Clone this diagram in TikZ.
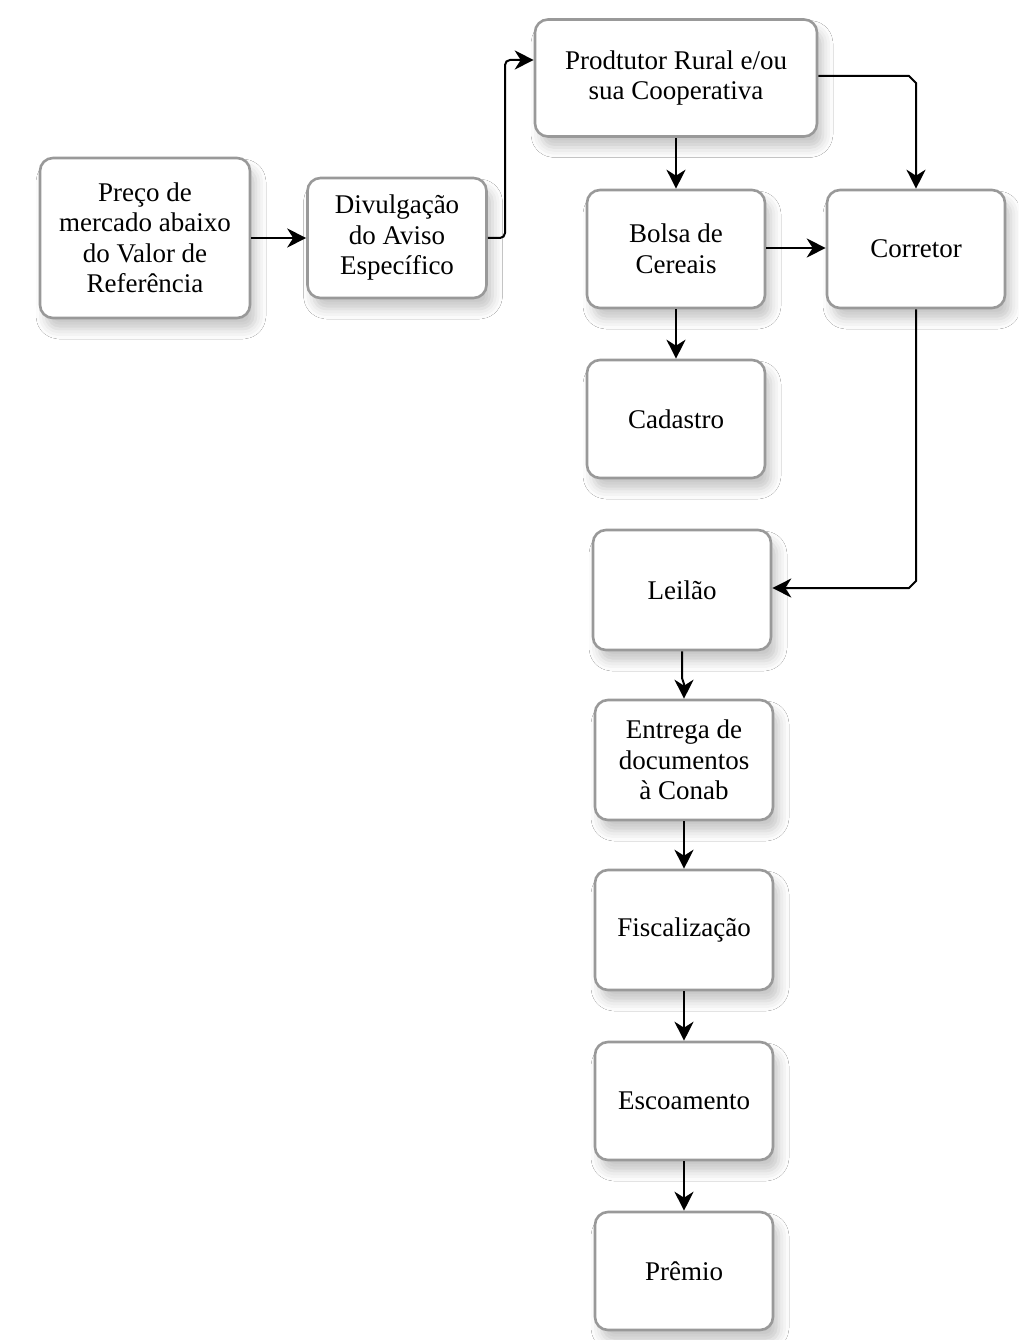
\documentclass[tikz,border=0pt]{standalone}
\usepackage{fontspec}
\setmainfont{Liberation Serif}
\usetikzlibrary{arrows.meta,shadows.blur}
\begin{document}
\begin{tikzpicture}[x=1pt,y=-1pt,
  box/.style={draw=black!40,line width=2.6pt,rounded corners=13pt,fill=white,
    minimum width=178pt,minimum height=118pt,align=center,inner sep=2pt,
    font=\fontsize{27}{30.5}\selectfont,
    blur shadow={shadow xshift=6pt,shadow yshift=-11pt,shadow blur radius=10pt,shadow opacity=22}},
  conn/.style={line width=2pt,-{Stealth[length=19pt,width=19pt,inset=6pt]}}]
\useasboundingbox[fill=white] (0,0) rectangle (1018,1340);
\node[box,minimum width=210pt,minimum height=160pt] (preco) at (145,238) {Preço de\\mercado abaixo\\do Valor de\\Referência};
\node[box,minimum width=179pt,minimum height=120pt] (div) at (397,238) {Divulgação\\do Aviso\\Específico};
\node[box,minimum width=282pt,minimum height=117pt] (prod) at (676,78) {Prodtutor Rural e/ou\\sua Cooperativa};
\node[box] (bolsa) at (676,249) {Bolsa de\\Cereais};
\node[box] (corr) at (916,249) {Corretor};
\node[box] (cad) at (676,419) {Cadastro};
\node[box,minimum height=120pt] (leil) at (682,590) {Leilão};
\node[box,minimum height=120pt] (ent) at (684,760) {Entrega de\\documentos\\à Conab};
\node[box,minimum height=120pt] (fisc) at (684,930) {Fiscalização};
\node[box] (esc) at (684,1101) {Escoamento};
\node[box] (prem) at (684,1271) {Prêmio};
\coordinate (c1) at (505,238);
\coordinate (c2) at (505,60);
\coordinate (c3) at (916,76);
\coordinate (c4) at (916,588);
\coordinate (k1) at (682,678);
\coordinate (k2) at (684,684);
\draw[conn,rounded corners=5pt] (div.east) -- (c1) -- (c2) -- (prod.west |- c2);
\draw[conn] (preco.east) -- (div.west);
\draw[conn] (prod.south) -- (bolsa.north);
\draw[conn] (prod.east |- c3) -- ([xshift=-7pt]c3) -- ([yshift=-7pt]c3) -- (corr.north);
\draw[conn] (bolsa.east |- 0,248) -- (corr.west |- 0,248);
\draw[conn] (bolsa.south) -- (cad.north);
\draw[conn] (corr.south) -- ([yshift=7pt]c4) -- ([xshift=-7pt]c4) -- (leil.east |- c4);
\draw[conn] (leil.south) -- (k1) -- (k2) -- (ent.north);
\draw[conn] (ent.south) -- (fisc.north);
\draw[conn] (fisc.south) -- (esc.north);
\draw[conn] (esc.south) -- (prem.north);
\end{tikzpicture}
\end{document}
